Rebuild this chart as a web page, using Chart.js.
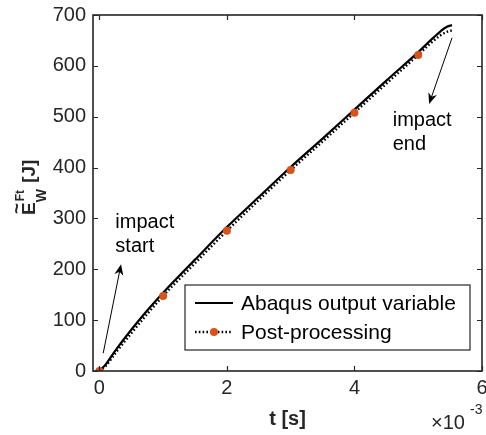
<!DOCTYPE html>
<html>
<head>
<meta charset="utf-8">
<script src="https://cdn.jsdelivr.net/npm/chart.js@4"></script>
<style>
  html, body { margin: 0; padding: 0; background: #fff; }
  canvas { display: block; }
</style>
</head>
<body>
<canvas id="energyChart" width="486" height="435"></canvas>
<script>
// time in ms (axis shows x10^-3 s)
const abaqusT = [0, 0.1, 0.25, 0.5, 0.75, 1.0, 1.5, 2.0, 2.5, 3.0, 3.5, 4.0, 4.5, 5.0, 5.2, 5.35, 5.45, 5.53];
const abaqusE = [0, 13, 40, 81, 119, 154, 219, 283, 342, 401, 457, 514, 571, 627, 651, 668, 677, 680];
const postT = [0, 0.1, 0.25, 0.5, 0.75, 1.0, 1.5, 2.0, 2.5, 3.0, 3.5, 4.0, 4.5, 5.0, 5.2, 5.35, 5.45, 5.53];
const postE = [0, 10, 35, 74, 112, 147.6, 212, 275.6, 336, 395, 451, 508, 565, 621.5, 645, 660, 667, 670];
const xTicks = [0, 2, 4, 6];
const yTicks = [0, 100, 200, 300, 400, 500, 600, 700];
const legendLabels = ["Abaqus output variable", "Post-processing"];

const axisColor = "#262626";
const orange = "#D95319";
const font = "'Liberation Sans', Arial, Helvetica, sans-serif";

function toXY(xs, ys) {
    return xs.map((x, i) => ({ x: x, y: ys[i] }));
}

function drawArrow(ctx, x1, y1, x2, y2) {
    const ang = Math.atan2(y2 - y1, x2 - x1);
    const len = 11, half = 4.5;
    ctx.save();
    ctx.strokeStyle = "#000";
    ctx.fillStyle = "#000";
    ctx.lineWidth = 1;
    ctx.beginPath();
    ctx.moveTo(x1, y1);
    ctx.lineTo(x2 - Math.cos(ang) * 4, y2 - Math.sin(ang) * 4);
    ctx.stroke();
    ctx.translate(x2, y2);
    ctx.rotate(ang);
    ctx.beginPath();
    ctx.moveTo(0, 0);
    ctx.lineTo(-len, -half);
    ctx.lineTo(-len * 0.7, 0);
    ctx.lineTo(-len, half);
    ctx.closePath();
    ctx.fill();
    ctx.restore();
}

const decorations = {
    id: "decorations",
    afterDatasetsDraw(chart) {
        const ctx = chart.ctx;
        const area = chart.chartArea;
        const xs = chart.scales.x, ys = chart.scales.y;
        ctx.save();

        // box + inward ticks
        ctx.strokeStyle = axisColor;
        ctx.lineWidth = 1.6;
        ctx.strokeRect(area.left, area.top, area.right - area.left, area.bottom - area.top);
        ctx.lineWidth = 1.2;
        ctx.beginPath();
        xTicks.forEach(v => {
            const px = Math.round(xs.getPixelForValue(v)) + 0.5;
            ctx.moveTo(px, area.bottom); ctx.lineTo(px, area.bottom - 5);
            ctx.moveTo(px, area.top); ctx.lineTo(px, area.top + 5);
        });
        yTicks.forEach(v => {
            const py = Math.round(ys.getPixelForValue(v)) + 0.5;
            ctx.moveTo(area.left, py); ctx.lineTo(area.left + 5, py);
            ctx.moveTo(area.right, py); ctx.lineTo(area.right - 5, py);
        });
        ctx.stroke();

        // annotations
        drawArrow(ctx, xs.getPixelForValue(0.06), ys.getPixelForValue(35),
                  xs.getPixelForValue(0.34), ys.getPixelForValue(210));
        drawArrow(ctx, xs.getPixelForValue(5.53), ys.getPixelForValue(655),
                  xs.getPixelForValue(5.17), ys.getPixelForValue(525));
        ctx.fillStyle = "#000";
        ctx.font = "20px " + font;
        ctx.textAlign = "left";
        ctx.textBaseline = "middle";
        ctx.fillText("impact", xs.getPixelForValue(0.25), ys.getPixelForValue(292));
        ctx.fillText("start", xs.getPixelForValue(0.25), ys.getPixelForValue(245));
        ctx.fillText("impact", xs.getPixelForValue(4.6), ys.getPixelForValue(493));
        ctx.fillText("end", xs.getPixelForValue(4.6), ys.getPixelForValue(446));

        // legend
        const lx = area.right - 297, ly = area.bottom - 86, lw = 285, lh = 65;
        ctx.fillStyle = "#fff";
        ctx.fillRect(lx, ly, lw, lh);
        ctx.strokeStyle = axisColor;
        ctx.lineWidth = 1.2;
        ctx.strokeRect(lx, ly, lw, lh);
        const r1 = ly + 18, r2 = ly + 47;
        ctx.strokeStyle = "#000";
        ctx.lineWidth = 2.2;
        ctx.beginPath();
        ctx.moveTo(lx + 10, r1); ctx.lineTo(lx + 48, r1);
        ctx.stroke();
        ctx.lineWidth = 2.4;
        ctx.setLineDash([1.6, 2.2]);
        ctx.beginPath();
        ctx.moveTo(lx + 10, r2); ctx.lineTo(lx + 48, r2);
        ctx.stroke();
        ctx.setLineDash([]);
        ctx.fillStyle = orange;
        ctx.beginPath();
        ctx.arc(lx + 29, r2, 4, 0, Math.PI * 2);
        ctx.fill();
        ctx.fillStyle = "#000";
        ctx.font = "21px " + font;
        ctx.fillText(legendLabels[0], lx + 56, r1 + 1);
        ctx.fillText(legendLabels[1], lx + 56, r2 + 1);

        // axis titles
        ctx.fillStyle = axisColor;
        ctx.textAlign = "center";
        ctx.font = "bold 20px " + font;
        ctx.fillText("t [s]", (area.left + area.right) / 2, 419);

        ctx.textAlign = "left";
        ctx.font = "20px " + font;
        ctx.fillText("\u00d710", 431, 423);
        ctx.font = "14px " + font;
        ctx.fillText("-3", 470, 410);

        // y title: E~ _W ^Ft [J], rotated
        ctx.save();
        ctx.translate(35, (area.top + area.bottom) / 2 + 22);
        ctx.rotate(-Math.PI / 2);
        ctx.textBaseline = "alphabetic";
        ctx.font = "bold 19px " + font;
        ctx.fillText("E", 0, 0);
        const eW = ctx.measureText("E").width;
        ctx.fillText("~", 1, -12);
        ctx.font = "bold 14px " + font;
        ctx.fillText("W", eW, 11);
        const wW = ctx.measureText("W").width;
        ctx.font = "bold 12px " + font;
        ctx.fillText("Ft", eW + 1, -11);
        ctx.font = "bold 19px " + font;
        ctx.fillText(" [J]", eW + wW + 1, 0);
        ctx.restore();

        ctx.restore();
    }
};

new Chart(document.getElementById("energyChart"), {
    type: "scatter",
    data: {
        datasets: [
            {
                label: legendLabels[1],
                data: toXY(postT, postE),
                showLine: true,
                borderColor: "#000",
                borderWidth: 2.4,
                borderDash: [1.6, 2.2],
                pointRadius: ctx => Number.isInteger(postT[ctx.dataIndex]) ? 4 : 0,
                pointBackgroundColor: orange,
                pointBorderColor: orange,
                pointBorderWidth: 0,
                cubicInterpolationMode: "monotone",
                order: 0
            },
            {
                label: legendLabels[0],
                data: toXY(abaqusT, abaqusE),
                showLine: true,
                borderColor: "#000",
                borderWidth: 2.2,
                pointRadius: 0,
                cubicInterpolationMode: "monotone",
                order: 1
            }
        ]
    },
    options: {
        responsive: false,
        animation: false,
        devicePixelRatio: 1,
        layout: { padding: { top: 15, right: 2, left: 0, bottom: 0 } },
        plugins: {
            legend: { display: false },
            tooltip: { enabled: false }
        },
        scales: {
            x: {
                type: "linear",
                min: -0.1,
                max: 6,
                afterBuildTicks: s => { s.ticks = xTicks.map(v => ({ value: v })); },
                afterFit: s => { s.height = 64; s.paddingLeft = 0; s.paddingRight = 0; },
                grid: { display: false, drawTicks: false },
                border: { display: false },
                ticks: {
                    autoSkip: false,
                    maxRotation: 0,
                    padding: 5,
                    color: axisColor,
                    font: { family: font, size: 20 }
                }
            },
            y: {
                min: 0,
                max: 700,
                afterBuildTicks: s => { s.ticks = yTicks.map(v => ({ value: v })); },
                afterFit: s => { s.width = 93; s.paddingTop = 0; s.paddingBottom = 0; },
                grid: { display: false, drawTicks: false },
                border: { display: false },
                ticks: {
                    padding: 7,
                    color: axisColor,
                    font: { family: font, size: 20 }
                }
            }
        }
    },
    plugins: [decorations]
});
</script>
</body>
</html>
